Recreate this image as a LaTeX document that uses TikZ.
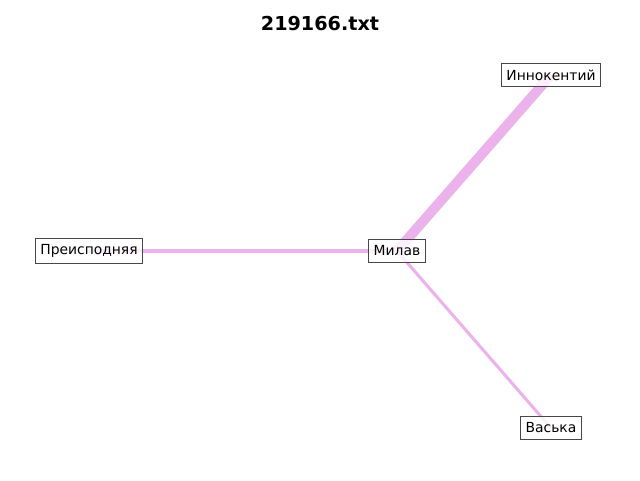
\documentclass[tikz,border=0pt]{standalone}
\usepackage{fontspec}
\setmainfont{DejaVu Sans}
\begin{document}
\begin{tikzpicture}[x=0.75pt,y=-0.75pt,
  vbox/.style={draw=black!72,line width=0.8pt,fill=white,fill opacity=0.8,text opacity=1,
    inner xsep=3.6pt,inner ysep=4.6pt,font=\fontsize{10.4}{12}\selectfont},
  link/.style={draw={rgb,255:red,235;green,178;blue,235}},
  thinlink/.style={link,line width=2.3pt},
  thicklink/.style={link,line width=7.5pt}]
\useasboundingbox (0,0) rectangle (640,480);
\node[font=\bfseries\fontsize{14.4}{16}\selectfont] (title) at (320,24) {219166.txt};
% graph vertices (positions only; boxes drawn after edges)
\coordinate (cM) at (397,251);
\coordinate (cI) at (551,75);
\coordinate (cP) at (89,251);
\coordinate (cV) at (551,428);
\draw[thicklink] (cM) -- (cI);
\draw[thinlink] (cM) -- (cP);
\draw[thinlink] (cM) -- (cV);
\node[vbox] (M) at (cM) {Милав};
\node[vbox] (I) at (cI) {Иннокентий};
\node[vbox] (P) at (cP) {Преисподняя};
\node[vbox] (V) at (cV) {Васька};
\end{tikzpicture}
\end{document}
